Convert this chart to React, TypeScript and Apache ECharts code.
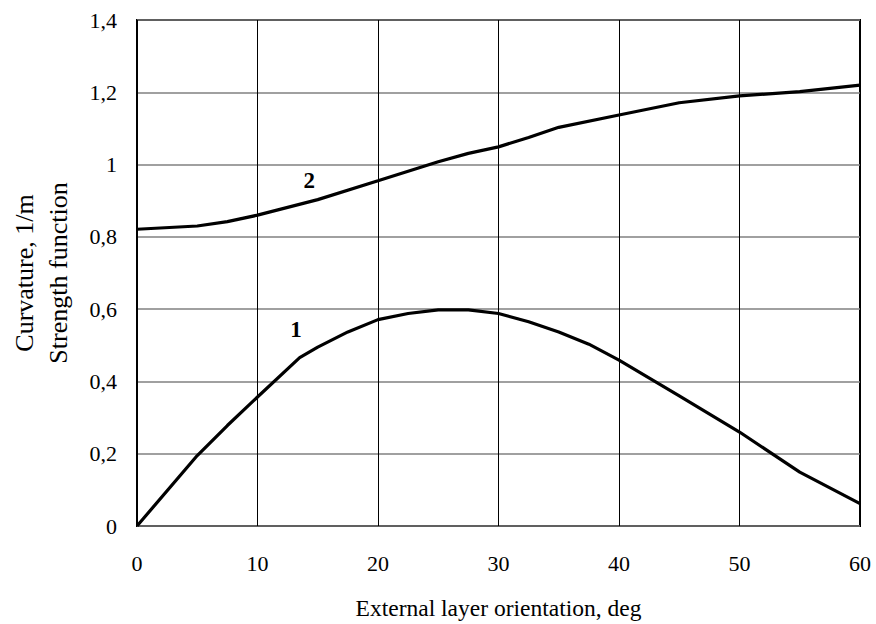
import React, { useEffect, useRef } from "react";
import * as echarts from "echarts";

const curve1X = [0, 5, 7.5, 10, 13.5, 15, 17.5, 20, 22.5, 25, 27.5, 30, 32.5, 35, 37.5, 40, 45, 50, 55, 60];
const curve1Y = [0, 0.195, 0.278, 0.357, 0.466, 0.495, 0.537, 0.571, 0.588, 0.598, 0.598, 0.588, 0.565, 0.537, 0.503, 0.459, 0.36, 0.26, 0.149, 0.062];

const curve2X = [0, 5, 7.5, 10, 15, 20, 25, 27.5, 30, 32.5, 35, 40, 45, 50, 55, 60];
const curve2Y = [0.821, 0.83, 0.842, 0.86, 0.903, 0.955, 1.008, 1.031, 1.049, 1.075, 1.103, 1.137, 1.171, 1.19, 1.202, 1.22];

const curveLabels = ["1", "2"];
const curveLabelPos = [
  [13.2, 0.544],
  [14.3, 0.957],
];

const xTitle = "External layer orientation, deg";
const yTitle = "Curvature, 1/m\nStrength function";

const FONT = "'Liberation Serif', 'Times New Roman', serif";

export default function App() {
  const ref = useRef<HTMLDivElement>(null);
  useEffect(() => {
    if (!ref.current) return;
    const chart = echarts.init(ref.current, undefined, { renderer: "svg" });
    const mk = (xs: number[], ys: number[]) => xs.map((x, i) => [x, ys[i]]);
    const series = [mk(curve1X, curve1Y), mk(curve2X, curve2Y)].map((d, i) => ({
      type: "line",
      data: d,
      showSymbol: false,
      symbol: "none",
      lineStyle: { color: "#000", width: 3.2 },
      z: 5,
      markPoint: {
        symbol: "circle",
        symbolSize: 0,
        data: [
          {
            coord: curveLabelPos[i],
            label: {
              show: true,
              formatter: curveLabels[i],
              position: "inside",
              color: "#000",
              fontFamily: FONT,
              fontWeight: "bold",
              fontSize: 23,
            },
          },
        ],
      },
    }));
    chart.setOption({
      animation: false,
      backgroundColor: "#fff",
      grid: {
        left: 137,
        right: 16,
        top: 20,
        bottom: 98,
        show: true,
        borderColor: "#000",
        borderWidth: 2,
        outerBoundsMode: "none",
      },
      xAxis: {
        type: "value",
        min: 0,
        max: 60,
        interval: 10,
        axisLine: { show: false },
        axisTick: { show: false },
        axisLabel: { color: "#000", fontFamily: FONT, fontSize: 22, margin: 26 },
        splitLine: { show: true, lineStyle: { color: "#000", width: 1 } },
        name: xTitle,
        nameLocation: "middle",
        nameGap: 70,
        nameTextStyle: { color: "#000", fontFamily: FONT, fontSize: 23.5 },
      },
      yAxis: {
        type: "value",
        min: 0,
        max: 1.4,
        interval: 0.2,
        axisLine: { show: false },
        axisTick: { show: false },
        axisLabel: {
          color: "#000",
          fontFamily: FONT,
          fontSize: 22,
          margin: 20,
          formatter: (v: number) => String(Math.round(v * 10) / 10).replace(".", ","),
        },
        splitLine: { show: true, lineStyle: { color: "#808080", width: 1.5 } },
        name: yTitle,
        nameLocation: "middle",
        nameRotate: 90,
        nameGap: 62,
        nameTextStyle: { color: "#000", fontFamily: FONT, fontSize: 26, lineHeight: 34 },
      },
      series,
    });
    return () => chart.dispose();
  }, []);
  return <div ref={ref} style={{ width: 876, height: 624, position: "absolute", left: 0, top: 0 }} />;
}
